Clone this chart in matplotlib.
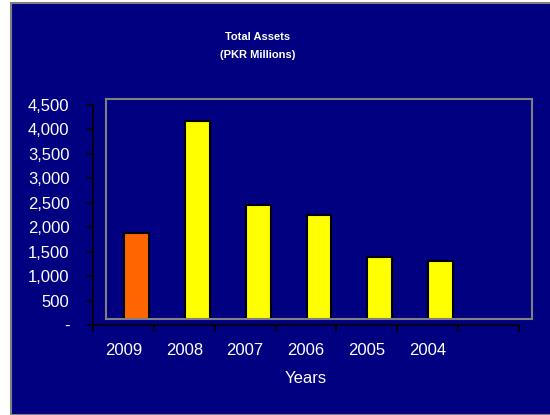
import matplotlib
matplotlib.use("Agg")
import matplotlib.pyplot as plt
from matplotlib.patches import Rectangle

plt.rcParams['font.family'] = ['Liberation Sans', 'DejaVu Sans']

# Data
years = ["2009", "2008", "2007", "2006", "2005", "2004"]
total_assets = [1890, 4173, 2455, 2250, 1400, 1310]
bar_colors = ["#FF6600", "#FFFF00", "#FFFF00", "#FFFF00", "#FFFF00", "#FFFF00"]
y_ticks = [0, 500, 1000, 1500, 2000, 2500, 3000, 3500, 4000, 4500]
y_tick_labels = ["-", "500", "1,000", "1,500", "2,000", "2,500", "3,000", "3,500", "4,000", "4,500"]

W, H = 550, 415
NAVY = "#000080"
n_slots = 7  # category slots on the axis (last one is empty)
ymax = 4500

fig = plt.figure(figsize=(W / 100, H / 100), dpi=100)
fig.patch.set_facecolor("white")

# Chart area panel with thin gray border
fig.add_artist(Rectangle((10.5 / W, 0), 1, 1 - 3.5 / H, transform=fig.transFigure,
                         facecolor=NAVY, edgecolor="#808080", linewidth=1.5, zorder=0))

def fx(px):
    return px / W

def fy(py):
    return 1 - py / H

# Value axis / category axis (black lines, ticks and labels)
ax_left, ax_right, ax_top, ax_bot = 93, 519, 105, 325
ax = fig.add_axes([fx(ax_left), fy(ax_bot), fx(ax_right - ax_left), (ax_bot - ax_top) / H])
ax.set_facecolor("none")
ax.set_xlim(-0.5, n_slots - 0.5)
ax.set_ylim(0, ymax)
for s in ("top", "right"):
    ax.spines[s].set_visible(False)
for s in ("left", "bottom"):
    ax.spines[s].set_color("black")
    ax.spines[s].set_linewidth(1.2)
ax.set_yticks(y_ticks)
ax.set_yticklabels(y_tick_labels)
ax.set_xticks([i - 0.5 for i in range(n_slots + 1)])
ax.set_xticklabels([])
ax.set_xticks(range(len(years)), minor=True)
ax.set_xticklabels(years, minor=True)
ax.tick_params(axis="y", which="major", direction="out", length=4, width=1.2,
               color="black", labelcolor="white", labelsize=12, pad=13)
ax.tick_params(axis="x", which="major", direction="out", length=5, width=1.2, color="black")
ax.tick_params(axis="x", which="minor", length=0, labelcolor="white", labelsize=12, pad=13)
ax.set_xlabel("Years", color="white", fontsize=12, labelpad=9)

# Plot area with gray frame, holding the bars
pa_left, pa_top = 106, 99
shift_px = ax_bot - (pa_top + (ax_bot - ax_top))  # vertical offset of the plot area
val_per_px = ymax / (ax_bot - ax_top)
bx = fig.add_axes([fx(pa_left), fy(pa_top + (ax_bot - ax_top)), fx(ax_right - ax_left),
                   (ax_bot - ax_top) / H])
bx.set_facecolor("none")
bx.set_xlim(-0.5, n_slots - 0.5)
bx.set_ylim(shift_px * val_per_px, ymax + shift_px * val_per_px)
for s in bx.spines.values():
    s.set_color("#808080")
    s.set_linewidth(1.5)
bx.set_xticks([])
bx.set_yticks([])
bx.bar(range(len(years)), total_assets, width=0.41, color=bar_colors,
       edgecolor="black", linewidth=1.5, zorder=2)

# Title
fig.text(fx(258), fy(37), "Total Assets", color="white", fontsize=8,
         fontweight="bold", ha="center", va="center")
fig.text(fx(258), fy(55), "(PKR Millions)", color="white", fontsize=8,
         fontweight="bold", ha="center", va="center")

fig.savefig("out.png", dpi=100, facecolor=fig.get_facecolor())
